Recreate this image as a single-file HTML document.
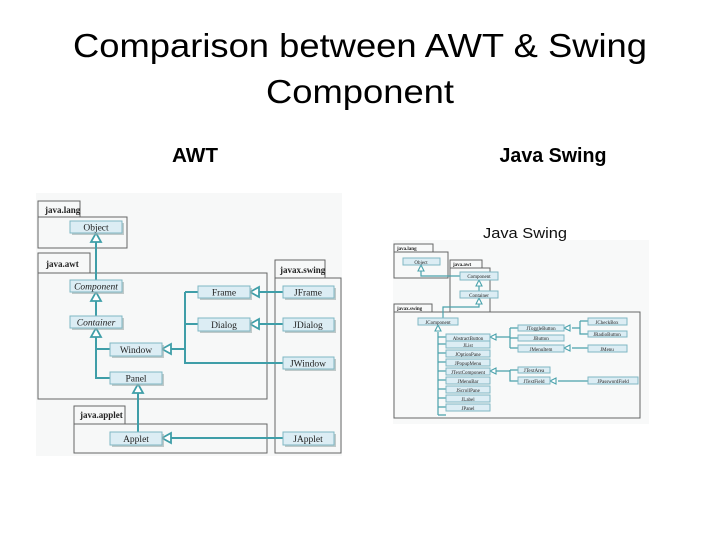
<!DOCTYPE html>
<html><head><meta charset="utf-8"><style>
html,body{margin:0;padding:0;background:#fff;}
svg{display:block;}
.t{font-family:"Liberation Serif",serif;fill:#222;}
.b{fill:#dcedf4;stroke:#7fb8c4;stroke-width:1;}
.s{fill:#9aa;opacity:.6;}
.p{fill:none;stroke:#666;stroke-width:1;}
.l{fill:none;stroke:#3f9ea8;stroke-width:2;}
.a{fill:#fff;stroke:#3f9ea8;stroke-width:1.8;}
.l2{fill:none;stroke:#4aa2ac;stroke-width:1.2;}
.a2{fill:#fff;stroke:#4aa2ac;stroke-width:1.1;}
</style></head><body>
<svg width="720" height="540" viewBox="0 0 720 540" xmlns="http://www.w3.org/2000/svg">
<text x="360" y="57" text-anchor="middle" font-family="Liberation Sans, sans-serif" font-size="33" textLength="574" lengthAdjust="spacingAndGlyphs" fill="#000">Comparison between AWT &amp; Swing</text>
<text x="360" y="103" text-anchor="middle" font-family="Liberation Sans, sans-serif" font-size="33" textLength="188" lengthAdjust="spacingAndGlyphs" fill="#000">Component</text>
<text x="195" y="162" text-anchor="middle" font-family="Liberation Sans, sans-serif" font-size="20" font-weight="bold" textLength="46" lengthAdjust="spacingAndGlyphs" fill="#000">AWT</text>
<text x="553" y="162" text-anchor="middle" font-family="Liberation Sans, sans-serif" font-size="20" font-weight="bold" textLength="107" lengthAdjust="spacingAndGlyphs" fill="#000">Java Swing</text>

<!-- LEFT DIAGRAM -->
<rect x="36" y="193" width="306" height="263" fill="#f7f8f8"/>
<!-- packages -->
<path class="p" d="M38 217V201H80V217M38 217H127V248H38Z"/>
<path class="p" d="M38 273V253H90V273M38 273H267V399H38Z"/>
<path class="p" d="M275 278V260H325V278M275 278H341V453H275Z"/>
<path class="p" d="M74 424V406H125V424M74 424H267V453H74Z" fill="#f7f8f8"/>
<g class="t" font-weight="bold" font-size="9">
<text x="45" y="213">java.lang</text><text x="46" y="267">java.awt</text>
<text x="280" y="273">javax.swing</text><text x="80" y="418">java.applet</text>
</g>
<!-- lines -->
<path class="l" d="M96 241V280M96 300V316M96 336V378H110M96 349H110M138 392V432M170 349H185M185 292V363H283M185 292H198M185 324H198M258 292H283M258 324H283M170 438H283"/>
<!-- arrowheads -->
<path class="a" d="M96 233L91 242H101Z M96 292L91 301H101Z M96 328L91 337H101Z M138 384L133 393H143Z M162 349L171 344V354Z M250 292L259 287V297Z M250 324L259 319V329Z M162 438L171 433V443Z"/>
<!-- boxes -->
<g>
<rect class="s" x="72" y="223" width="52" height="12"/><rect class="b" x="70" y="221" width="52" height="12"/>
<rect class="s" x="72" y="282" width="52" height="12"/><rect class="b" x="70" y="280" width="52" height="12"/>
<rect class="s" x="72" y="318" width="52" height="12"/><rect class="b" x="70" y="316" width="52" height="12"/>
<rect class="s" x="112" y="345" width="52" height="13"/><rect class="b" x="110" y="343" width="52" height="13"/>
<rect class="s" x="112" y="374" width="52" height="12"/><rect class="b" x="110" y="372" width="52" height="12"/>
<rect class="s" x="200" y="288" width="52" height="12"/><rect class="b" x="198" y="286" width="52" height="12"/>
<rect class="s" x="200" y="320" width="52" height="13"/><rect class="b" x="198" y="318" width="52" height="13"/>
<rect class="s" x="285" y="288" width="51" height="12"/><rect class="b" x="283" y="286" width="51" height="12"/>
<rect class="s" x="285" y="320" width="51" height="13"/><rect class="b" x="283" y="318" width="51" height="13"/>
<rect class="s" x="285" y="359" width="51" height="12"/><rect class="b" x="283" y="357" width="51" height="12"/>
<rect class="s" x="112" y="434" width="52" height="13"/><rect class="b" x="110" y="432" width="52" height="13"/>
<rect class="s" x="285" y="434" width="51" height="13"/><rect class="b" x="283" y="432" width="51" height="13"/>
</g>
<g class="t" font-size="9.5" text-anchor="middle">
<text x="96" y="230.5">Object</text>
<text x="96" y="289.5" font-style="italic">Component</text>
<text x="96" y="325.5" font-style="italic">Container</text>
<text x="136" y="353">Window</text><text x="136" y="381.5">Panel</text>
<text x="224" y="295.5">Frame</text><text x="224" y="328">Dialog</text>
<text x="308" y="295.5">JFrame</text><text x="308" y="328">JDialog</text>
<text x="308" y="366.5">JWindow</text><text x="136" y="442">Applet</text><text x="308" y="442">JApplet</text>
</g>

<!-- RIGHT DIAGRAM -->
<rect x="393" y="240" width="256" height="184" fill="#f8f9f9"/>
<text x="525" y="238" text-anchor="middle" font-family="Liberation Sans, sans-serif" font-size="15" textLength="84" lengthAdjust="spacingAndGlyphs" fill="#111">Java Swing</text>
<path class="p" d="M394 252V244H433V252M394 252H448V278H394Z" stroke="#888"/>
<path class="p" d="M450 268V260H482V268M450 268H490V312H450Z" stroke="#888"/>
<path class="p" d="M394 312V304H432V312M394 312H640V418H394Z" stroke="#888"/>
<g class="t" font-size="5" font-weight="bold">
<text x="397" y="250">java.lang</text><text x="453" y="266">java.awt</text><text x="397" y="310">javax.swing</text>
</g>
<path class="l2" d="M421 270V276H460M479 284V291M479 302V307H443V318M438 332V415M438 337H446M438 344H446M438 353H446M438 362H446M438 371H446M438 380H446M438 389H446M438 398H446M438 407H446M438 415H446M496 337H510M510 328V348M510 328H518M510 338H518M510 348H518M572 328H580M580 321V334H588M580 321H588M572 348H588M496 371H510M510 370V381H518M510 370H518M558 381H588"/>
<path class="a2" d="M421 265L418 271H424Z M479 280L476 286H482Z M479 298L476 304H482Z M438 325L435 331H441Z M490 337L496 334V340Z M564 328L570 325V331Z M564 348L570 345V351Z M490 371L496 368V374Z M550 381L556 378V384Z"/>
<g>
<rect class="b" x="403" y="258" width="37" height="7"/>
<rect class="b" x="460" y="272" width="38" height="8"/>
<rect class="b" x="460" y="291" width="38" height="7"/>
<rect class="b" x="418" y="318" width="40" height="7"/>
<rect class="b" x="446" y="334" width="44" height="7"/>
<rect class="b" x="446" y="341" width="44" height="7"/>
<rect class="b" x="446" y="350" width="44" height="7"/>
<rect class="b" x="446" y="359" width="44" height="7"/>
<rect class="b" x="446" y="368" width="44" height="7"/>
<rect class="b" x="446" y="377" width="44" height="7"/>
<rect class="b" x="446" y="386" width="44" height="7"/>
<rect class="b" x="446" y="395" width="44" height="7"/>
<rect class="b" x="446" y="404" width="44" height="7"/>
<rect class="b" x="518" y="325" width="46" height="6"/>
<rect class="b" x="518" y="335" width="46" height="6"/>
<rect class="b" x="518" y="345" width="46" height="7"/>
<rect class="b" x="588" y="318" width="39" height="7"/>
<rect class="b" x="588" y="331" width="39" height="6"/>
<rect class="b" x="588" y="345" width="39" height="7"/>
<rect class="b" x="518" y="367" width="32" height="6"/>
<rect class="b" x="518" y="377" width="32" height="7"/>
<rect class="b" x="588" y="377" width="50" height="7"/>
</g>
<g class="t" font-size="5" text-anchor="middle">
<text x="421" y="264">Object</text><text x="479" y="278">Component</text><text x="479" y="297">Container</text>
<text x="438" y="324">JComponent</text>
<text x="468" y="340">AbstractButton</text><text x="468" y="347">JList</text><text x="468" y="356">JOptionPane</text>
<text x="468" y="365">JPopupMenu</text><text x="468" y="374">JTextComponent</text><text x="468" y="383">JMenuBar</text>
<text x="468" y="392">JScrollPane</text><text x="468" y="401">JLabel</text><text x="468" y="410">JPanel</text>
<text x="541" y="330">JToggleButton</text><text x="541" y="340">JButton</text><text x="541" y="351">JMenuItem</text>
<text x="607" y="324">JCheckBox</text><text x="607" y="336">JRadioButton</text><text x="607" y="351">JMenu</text>
<text x="534" y="372">JTextArea</text><text x="534" y="383">JTextField</text><text x="613" y="383">JPasswordField</text>
</g>
</svg>
</body></html>
